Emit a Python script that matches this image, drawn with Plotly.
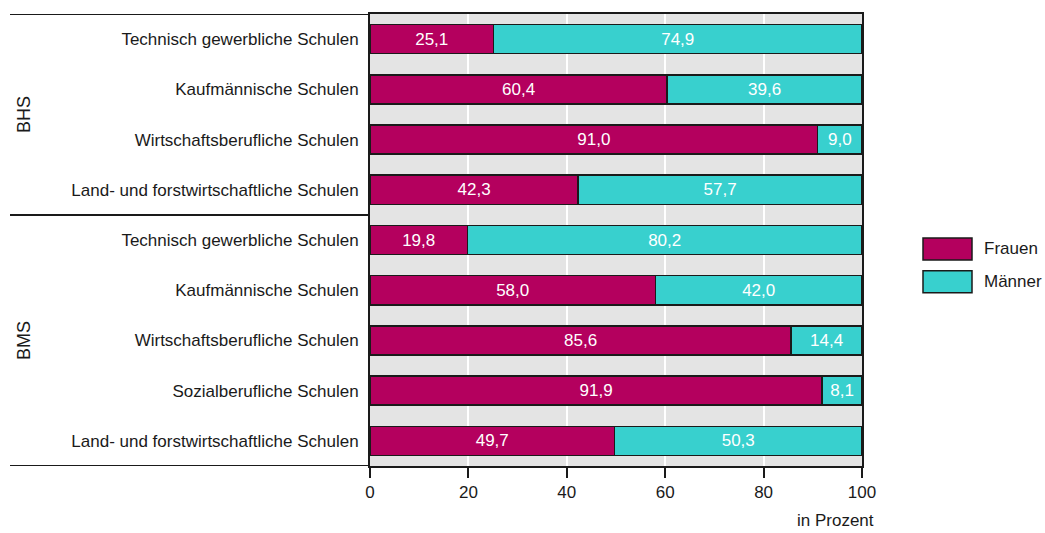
import plotly.graph_objects as go

# Daten
gruppen = ['BHS', 'BHS', 'BHS', 'BHS', 'BMS', 'BMS', 'BMS', 'BMS', 'BMS']
schulen = ['Technisch gewerbliche Schulen', 'Kaufmännische Schulen',
           'Wirtschaftsberufliche Schulen', 'Land- und forstwirtschaftliche Schulen',
           'Technisch gewerbliche Schulen', 'Kaufmännische Schulen',
           'Wirtschaftsberufliche Schulen', 'Sozialberufliche Schulen',
           'Land- und forstwirtschaftliche Schulen']
frauen = [25.1, 60.4, 91.0, 42.3, 19.8, 58.0, 85.6, 91.9, 49.7]
maenner = [74.9, 39.6, 9.0, 57.7, 80.2, 42.0, 14.4, 8.1, 50.3]
x_ticks = [0, 20, 40, 60, 80, 100]

FARBE_F = '#b4005e'
FARBE_M = '#38d0ce'
FONT = 'Liberation Sans Narrow, Arial Narrow, Liberation Sans, sans-serif'

pos = list(range(len(schulen)))

fig = go.Figure()

for name, werte, farbe in [('Frauen', frauen, FARBE_F), ('Männer', maenner, FARBE_M)]:
    fig.add_trace(go.Bar(y = pos,
                         x = werte,
                         name = name,
                         orientation = 'h',
                         width = 0.58,
                         marker_color = farbe,
                         marker_line_color = '#1a1a1a',
                         marker_line_width = 1.5,
                         texttemplate = '%{x:.1f}',
                         textposition = 'inside',
                         insidetextanchor = 'middle',
                         textangle = 0,
                         textfont = dict(color = 'white', size = 17, family = FONT),
                         showlegend = False))

fig.update_layout(
    barmode = 'stack',
    separators = ',.',
    width = 1045,
    height = 533,
    margin = dict(l = 370, r = 183, t = 12, b = 67),
    paper_bgcolor = 'white',
    plot_bgcolor = '#e4e4e4',
    font = dict(family = FONT, size = 17, color = '#1a1a1a'),
    uniformtext = dict(minsize = 17, mode = 'show'),
)

fig.update_xaxes(range = [0, 100],
                 tickvals = x_ticks,
                 showgrid = True,
                 gridcolor = 'white',
                 gridwidth = 1.5,
                 zeroline = False,
                 showline = True,
                 mirror = True,
                 linecolor = '#1a1a1a',
                 linewidth = 2,
                 ticks = 'outside',
                 ticklen = 10,
                 tickwidth = 2,
                 tickcolor = '#1a1a1a')

fig.update_yaxes(range = [len(schulen) - 0.5, -0.5],
                 tickvals = pos,
                 ticktext = schulen,
                 showgrid = False,
                 zeroline = False,
                 showline = True,
                 mirror = True,
                 linecolor = '#1a1a1a',
                 linewidth = 2,
                 ticks = '',
                 ticklabelstandoff = 6)

# Trennlinien der Gruppen links
x_links = (10 - 370) / 492
grenzen = [-0.5] + [i + 0.5 for i in range(len(gruppen) - 1) if gruppen[i] != gruppen[i + 1]] + [len(gruppen) - 0.5]
for g in grenzen:
    fig.add_shape(type = 'line', xref = 'paper', yref = 'y',
                  x0 = x_links, x1 = 0, y0 = g, y1 = g,
                  line = dict(color = '#1a1a1a', width = 2))

# Gruppenbeschriftung (gedreht)
for name in dict.fromkeys(gruppen):
    idx = [i for i, g in enumerate(gruppen) if g == name]
    fig.add_annotation(x = x_links + 0.005, xref = 'paper', xanchor = 'left',
                       y = (idx[0] + idx[-1]) / 2, yref = 'y',
                       text = name, textangle = -90, showarrow = False,
                       font = dict(size = 18))

fig.add_annotation(x = (876 - 370) / 492, y = -0.12, xref = 'paper', yref = 'paper',
                   xanchor = 'right', yanchor = 'middle',
                   text = 'in Prozent', showarrow = False,
                   font = dict(size = 17))

# Legende von Hand (große Kästchen)
for k, (name, farbe) in enumerate([('Frauen', FARBE_F), ('Männer', FARBE_M)]):
    y_top = 237 + k * 33
    fig.add_shape(type = 'rect', xref = 'paper', yref = 'paper',
                  x0 = (923 - 370) / 492, x1 = (972 - 370) / 492,
                  y0 = (466 - y_top) / 454, y1 = (466 - y_top - 22) / 454,
                  fillcolor = farbe, line = dict(color = '#1a1a1a', width = 1.5))
    fig.add_annotation(x = (982 - 370) / 492, y = (466 - y_top - 11) / 454,
                       xref = 'paper', yref = 'paper',
                       xanchor = 'left', yanchor = 'middle',
                       text = name, showarrow = False,
                       font = dict(size = 17))

fig.write_html("out.html", config = {'displayModeBar': False},
               post_script = "document.body.style.margin = '0';")
